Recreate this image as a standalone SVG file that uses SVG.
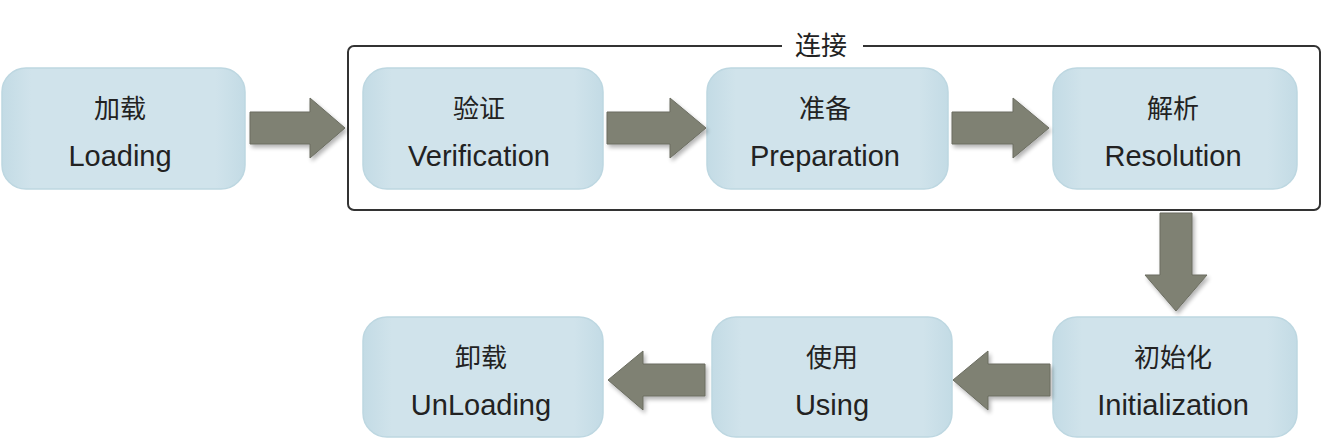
<svg xmlns="http://www.w3.org/2000/svg" width="1330" height="448" viewBox="0 0 1330 448">
<defs>
<linearGradient id="ng" x1="0" y1="0" x2="1" y2="0">
<stop offset="0" stop-color="#c3dbe5"/>
<stop offset="0.12" stop-color="#d0e3eb"/>
<stop offset="0.88" stop-color="#d0e3eb"/>
<stop offset="1" stop-color="#c3dbe5"/>
</linearGradient>
<filter id="sh" x="-20%" y="-20%" width="150%" height="150%">
<feGaussianBlur in="SourceAlpha" stdDeviation="2"/>
<feOffset dx="2" dy="3" result="b"/>
<feComponentTransfer><feFuncA type="linear" slope="0.3"/></feComponentTransfer>
<feMerge><feMergeNode/><feMergeNode in="SourceGraphic"/></feMerge>
</filter>
</defs>
<style>
.node rect{fill:url(#ng);stroke:#bdd7e1;stroke-width:1.5}
.zh{font-family:"Noto Sans CJK SC","Noto Sans",sans-serif;font-size:26px;fill:#222;text-anchor:middle}
.en{font-family:"Liberation Sans",Arial,sans-serif;font-size:29px;fill:#222;text-anchor:middle}
.arr path{fill:#7f8173;stroke:#6b6d61;stroke-width:1;filter:url(#sh)}
</style>
<rect width="1330" height="448" fill="#fff"/>
<g id="link-group">
<rect x="348" y="46" width="972" height="164" rx="6" fill="none" stroke="#333" stroke-width="2"/>
<rect x="782" y="36" width="81" height="20" fill="#fff"/>
<text x="821" y="55" class="zh">连接</text>
</g>
<g id="loading" class="node"><rect x="2" y="68" width="243" height="121" rx="24"/><text x="120" y="118" class="zh">加载</text><text x="120" y="166" class="en">Loading</text></g>
<g id="verification" class="node"><rect x="363" y="68" width="240" height="121" rx="24"/><text x="479" y="118" class="zh">验证</text><text x="479" y="166" class="en">Verification</text></g>
<g id="preparation" class="node"><rect x="707" y="68" width="241" height="121" rx="24"/><text x="825" y="118" class="zh">准备</text><text x="825" y="166" class="en">Preparation</text></g>
<g id="resolution" class="node"><rect x="1053" y="68" width="244" height="121" rx="24"/><text x="1173" y="118" class="zh">解析</text><text x="1173" y="166" class="en">Resolution</text></g>
<g id="initialization" class="node"><rect x="1053" y="317" width="244" height="120" rx="24"/><text x="1173" y="367" class="zh">初始化</text><text x="1173" y="415" class="en">Initialization</text></g>
<g id="using" class="node"><rect x="712" y="317" width="240" height="120" rx="24"/><text x="832" y="367" class="zh">使用</text><text x="832" y="415" class="en">Using</text></g>
<g id="unloading" class="node"><rect x="363" y="317" width="240" height="120" rx="24"/><text x="481" y="367" class="zh">卸载</text><text x="481" y="415" class="en">UnLoading</text></g>
<g id="connectors" class="arr">
<path d="M250,112 H310 V98 L345,128 L310,158 V144 H250 Z"/>
<path d="M607,112 H670 V98 L706,128 L670,158 V144 H607 Z"/>
<path d="M952,112 H1013 V98 L1049,128 L1013,158 V144 H952 Z"/>
<path d="M1160,213 V275 H1145 L1176,311 L1207,275 H1192 V213 Z"/>
<path d="M1050,364 H988 V351 L953,380 L988,410 V396 H1050 Z"/>
<path d="M705,364 H643 V351 L608,380 L643,410 V396 H705 Z"/>
</g>
</svg>
